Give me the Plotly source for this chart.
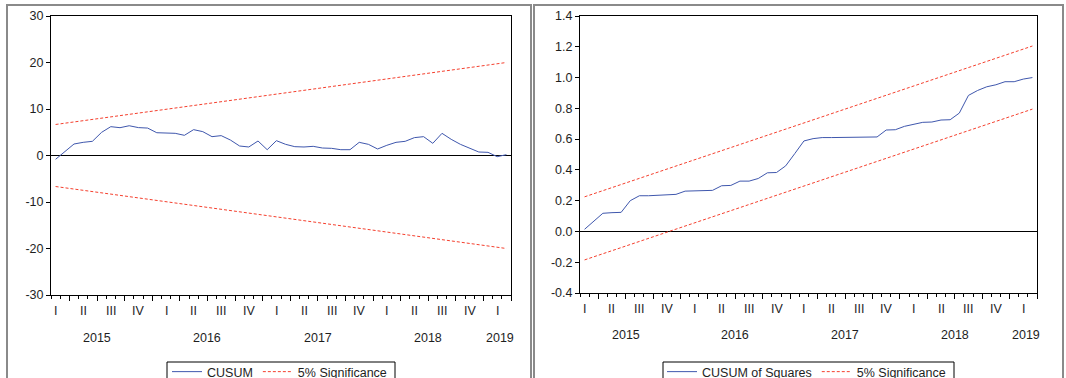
import plotly.graph_objects as go
import pandas as pd

# Recursive-residual stability tests, monthly sample 2015M02 - 2019M03
months = pd.period_range("2015-02", periods=50, freq="M")
obs = list(range(len(months)))

cusum = [
    -0.82, 0.82, 2.47, 2.83, 3.05, 4.98, 6.20, 5.98, 6.40, 6.00,
    5.90, 4.90, 4.77, 4.77, 4.34, 5.56, 5.13, 4.05, 4.27, 3.33,
    2.04, 1.83, 3.12, 1.25, 3.19, 2.40, 1.90, 1.83, 1.97, 1.61,
    1.54, 1.25, 1.25, 2.83, 2.40, 1.40, 2.19, 2.83, 3.05, 3.84,
    4.05, 2.62, 4.77, 3.48, 2.40, 1.54, 0.75, 0.68, -0.25, 0.18,
]
cusum_upper = [6.67, 20.0]
cusum_lower = [-6.67, -20.0]

cusum_sq = [
    0.014, 0.066, 0.118, 0.122, 0.124, 0.200, 0.232, 0.232, 0.236, 0.241,
    0.241, 0.262, 0.264, 0.264, 0.267, 0.297, 0.299, 0.327, 0.327, 0.344,
    0.381, 0.383, 0.426, 0.506, 0.588, 0.603, 0.610, 0.610, 0.610, 0.612,
    0.612, 0.614, 0.614, 0.659, 0.661, 0.683, 0.698, 0.709, 0.711, 0.724,
    0.726, 0.769, 0.884, 0.916, 0.940, 0.953, 0.973, 0.973, 0.990, 1.000,
]
cusum_sq_upper = [0.225, 1.205]
cusum_sq_lower = [-0.185, 0.795]

cusum_ticks = [-30, -20, -10, 0, 10, 20, 30]
cusum_sq_ticks = [-0.4, -0.2, 0.0, 0.2, 0.4, 0.6, 0.8, 1.0, 1.2, 1.4]

quarter_names = ["I", "II", "III", "IV"]
years = ["2015", "2016", "2017", "2018", "2019"]

W, H = 1066, 378
BLUE = "#3f57ad"
RED = "#f5402e"
FONT = "Liberation Sans, Arial, sans-serif"
TXT = "#1e1e1e"


def px(x):
    return x / W


def py(y):
    return 1 - y / H


ends = [obs[0], obs[-1]]
month_edges = [i - 0.5 for i in obs] + [obs[-1] + 0.5]
# quarter boundaries fall after every March, June, September and December
quarter_edges = [i + 0.5 for i, m in enumerate(months) if m.month % 3 == 0]
quarter_mid = [i for i, m in enumerate(months) if m.month % 3 == 2]
year_pos = [4.5, 16.5, 28.5, 40.5, 48.3]

fig = go.Figure()
dash = dict(color=RED, width=1, dash="3px,2px")

# left panel: CUSUM
fig.add_trace(go.Scatter(x=obs, y=cusum, mode="lines", name="CUSUM",
                         line=dict(color=BLUE, width=1), xaxis="x", yaxis="y",
                         legend="legend"))
fig.add_trace(go.Scatter(x=ends, y=cusum_upper, mode="lines", name="5% Significance",
                         line=dash, xaxis="x", yaxis="y", legend="legend"))
fig.add_trace(go.Scatter(x=ends, y=cusum_lower, mode="lines", showlegend=False,
                         line=dash, xaxis="x", yaxis="y"))

# right panel: CUSUM of squares
fig.add_trace(go.Scatter(x=obs, y=cusum_sq, mode="lines", name="CUSUM of Squares",
                         line=dict(color=BLUE, width=1), xaxis="x2", yaxis="y2",
                         legend="legend2"))
fig.add_trace(go.Scatter(x=ends, y=cusum_sq_upper, mode="lines", name="5% Significance",
                         line=dash, xaxis="x2", yaxis="y2", legend="legend2"))
fig.add_trace(go.Scatter(x=ends, y=cusum_sq_lower, mode="lines", showlegend=False,
                         line=dash, xaxis="x2", yaxis="y2"))


def xaxis_cfg(x0, x1, anchor):
    return dict(
        domain=[px(x0), px(x1)], anchor=anchor,
        range=[obs[0] - 0.5, obs[-1] + 0.5],
        showline=True, linecolor="black", linewidth=1, mirror=True,
        showgrid=False, zeroline=False, showticklabels=False,
        tickmode="array", tickvals=quarter_edges, ticks="outside",
        ticklen=5, tickcolor="black", tickwidth=1,
        minor=dict(tickmode="array", tickvals=month_edges, ticks="outside",
                   ticklen=3, tickcolor="black", tickwidth=1, showgrid=False),
        fixedrange=True,
    )


def yaxis_cfg(y_top, y_bot, anchor, vals, fmt):
    return dict(
        domain=[py(y_bot), py(y_top)], anchor=anchor,
        range=[vals[0], vals[-1]],
        tickmode="array", tickvals=vals, ticktext=[fmt.format(v) for v in vals],
        showline=True, linecolor="black", linewidth=1, mirror=True,
        showgrid=False, zeroline=True, zerolinecolor="black", zerolinewidth=1,
        ticks="outside", ticklen=4, tickcolor="black",
        tickfont=dict(family=FONT, size=12.5, color=TXT),
        automargin=False, fixedrange=True,
    )


annotations = []


def add_time_labels(xref, y_q, y_y):
    for k, i in enumerate(quarter_mid):
        annotations.append(dict(x=i, y=py(y_q), xref=xref, yref="paper",
                                text=quarter_names[k % 4], showarrow=False,
                                font=dict(family=FONT, size=12.5, color=TXT),
                                xanchor="center", yanchor="middle"))
    for yr, xp in zip(years, year_pos):
        annotations.append(dict(x=xp, y=py(y_y), xref=xref, yref="paper",
                                text=yr, showarrow=False,
                                font=dict(family=FONT, size=12.5, color=TXT),
                                xanchor="center", yanchor="middle"))


add_time_labels("x", 311, 337.5)
add_time_labels("x2", 308.5, 334.5)

shapes = [
    # panel frames
    dict(type="rect", xref="paper", yref="paper", x0=px(7), x1=px(531),
         y0=py(400), y1=py(5), line=dict(color="#8a8a8a", width=2)),
    dict(type="rect", xref="paper", yref="paper", x0=px(534), x1=px(1063),
         y0=py(400), y1=py(5), line=dict(color="#8a8a8a", width=2)),
    # legend boxes
    dict(type="rect", xref="paper", yref="paper", x0=px(167), x1=px(395),
         y0=py(400), y1=py(362), line=dict(color="black", width=1)),
    dict(type="rect", xref="paper", yref="paper", x0=px(663), x1=px(954),
         y0=py(400), y1=py(362), line=dict(color="black", width=1)),
]

legend_common = dict(
    orientation="h", xanchor="left", yanchor="top",
    bgcolor="rgba(0,0,0,0)", borderwidth=0,
    font=dict(family=FONT, size=12.5, color=TXT),
    itemclick=False, itemdoubleclick=False,
)

fig.update_layout(
    width=W, height=H,
    margin=dict(l=0, r=0, t=0, b=0, autoexpand=False),
    paper_bgcolor="white", plot_bgcolor="white",
    font=dict(family=FONT, size=12, color=TXT),
    xaxis=xaxis_cfg(51, 511, "y"),
    yaxis=yaxis_cfg(16, 295, "x", cusum_ticks, "{:.0f}"),
    xaxis2=xaxis_cfg(580, 1037, "y2"),
    yaxis2=yaxis_cfg(16, 293, "x2", cusum_sq_ticks, "{:.1f}"),
    legend=dict(x=px(167), y=py(357), **legend_common),
    legend2=dict(x=px(662), y=py(357), **legend_common),
    annotations=annotations,
    shapes=shapes,
    showlegend=True,
)

fig.write_html("out.html", config={"displayModeBar": False})
